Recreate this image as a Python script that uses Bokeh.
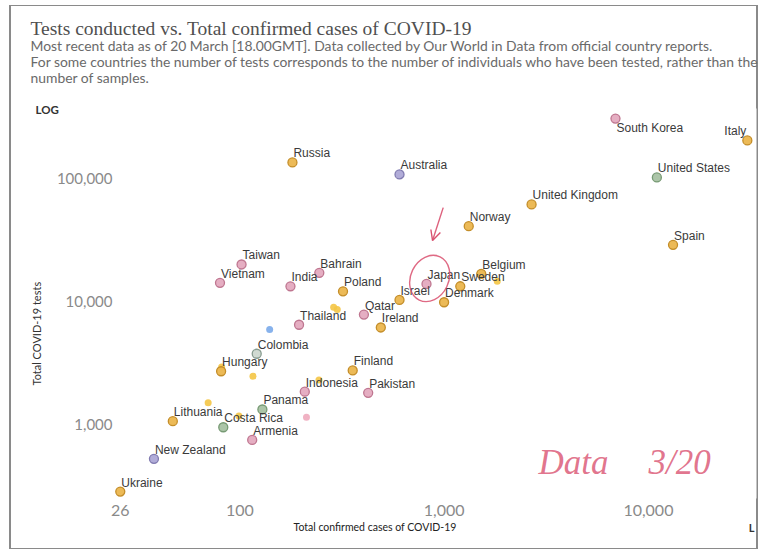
from bokeh.plotting import figure
from bokeh.models import (ColumnDataSource, FixedTicker, NumeralTickFormatter, Range1d,
                          Label, Arrow, OpenHead, Title)
from bokeh.core.properties import value
from bokeh.embed import file_html
from bokeh.resources import INLINE

# --- data (20 March) ---------------------------------------------------------
countries = ["South Korea", "Italy", "Russia", "Australia", "United States",
             "United Kingdom", "Norway", "Spain", "Taiwan", "Bahrain", "Vietnam",
             "India", "Poland", "Belgium", "Sweden", "Japan", "Israel", "Denmark",
             "Qatar", "Thailand", "Ireland", "Colombia", "Hungary", "Finland",
             "Indonesia", "Pakistan", "Panama", "Lithuania", "Costa Rica",
             "Armenia", "New Zealand", "Ukraine"]
cases = [6900, 30500, 181, 605, 11000, 2680, 1320, 13200, 102, 245, 80, 177, 320,
         1520, 1200, 820, 605, 1000, 405, 195, 490, 121, 81, 357, 208, 425, 129,
         47, 83, 115, 38, 26]
tests = [307000, 204000, 135000, 108000, 102000, 61500, 41000, 28900, 20000,
         17100, 14200, 13300, 12100, 16800, 13300, 13900, 10300, 9860, 7830, 6470,
         6150, 3760, 2710, 2750, 1850, 1810, 1325, 1065, 950, 750, 526, 285]
regions = ["Asia", "Europe", "Europe", "Oceania", "North America", "Europe",
           "Europe", "Europe", "Asia", "Asia", "Asia", "Asia", "Europe", "Europe",
           "Europe", "Asia", "Europe", "Europe", "Asia", "Asia", "Europe",
           "South America", "Europe", "Europe", "Asia", "Asia", "North America",
           "Europe", "North America", "Asia", "Oceania", "Europe"]

# countries drawn without a name
other_cases = [288, 300, 140, 81.5, 116, 244, 70, 99, 212, 1820]
other_tests = [8990, 8610, 5920, 2930, 2470, 2300, 1500, 1170, 1146, 14630]
other_regions = ["Europe", "Europe", "South America", "Europe", "Europe", "Europe",
                 "Europe", "Europe", "Asia", "Europe"]

x_ticks = [26, 100, 1000, 10000]
y_ticks = [1000, 10000, 100000]

# --- styles ------------------------------------------------------------------
fill_by_region = {"Asia": "#e4aabf", "Europe": "#ebb64e", "North America": "#a8c2a3",
                  "Oceania": "#ada8d6", "South America": "#cdd8d0"}
line_by_region = {"Asia": "#bf7690", "Europe": "#c48e2a", "North America": "#779a74",
                  "Oceania": "#817bb0", "South America": "#879c90"}
other_fill_by_region = {"Europe": "#f4c545", "Asia": "#eeaabd", "South America": "#7aaaea"}
labels_below = {"South Korea"}
labels_left = {"Italy"}
NOTE_RED = "#d9506f"

LEFT, RIGHT, TOP, BOTTOM = 114, 4, 108, 53   # plot frame margins (px)

p = figure(width=760, height=551, x_axis_type="log", y_axis_type="log",
           x_range=Range1d(24.36, 33815), y_range=Range1d(250.3, 370800),
           min_border_left=LEFT, min_border_right=RIGHT,
           min_border_top=TOP, min_border_bottom=BOTTOM,
           toolbar_location=None, output_backend="svg")
p.outline_line_color = None
p.background_fill_color = "white"
p.border_fill_color = None
p.grid.visible = False

# edge of the printed sheet, painted behind the canvas
p.styles = {
    "background-color": "white",
    "background-image": ", ".join(["linear-gradient(#8a8a8a, #8a8a8a)"] * 4),
    "background-size": "2px 544px, 747px 1px, 2px 544px, 747px 1px",
    "background-position": "9px 5px, 10px 5px, 756px 5px, 10px 548px",
    "background-repeat": "no-repeat",
}

for ax, ticks, size, standoff in ((p.xaxis[0], x_ticks, "16px", 6),
                                  (p.yaxis[0], y_ticks, "15px", 2)):
    ax.ticker = FixedTicker(ticks=ticks)
    ax.formatter = NumeralTickFormatter(format="0,0")
    ax.axis_line_color = None
    ax.major_tick_line_color = None
    ax.minor_tick_line_color = None
    ax.major_tick_out = 0
    ax.major_tick_in = 0
    ax.minor_tick_out = 0
    ax.minor_tick_in = 0
    ax.major_label_text_font = "Lato"
    ax.major_label_text_font_size = size
    ax.major_label_text_color = "#8a8a8a"
    ax.major_label_standoff = standoff

# --- points ------------------------------------------------------------------
others = ColumnDataSource(dict(
    x=other_cases, y=other_tests,
    fill=[other_fill_by_region[r] for r in other_regions]))
p.scatter("x", "y", source=others, size=7, fill_color="fill", fill_alpha=0.9,
          line_color=None)

src = ColumnDataSource(dict(
    x=cases, y=tests, name=countries,
    fill=[fill_by_region[r] for r in regions],
    line=[line_by_region[r] for r in regions]))
p.scatter("x", "y", source=src, size=9, fill_color="fill", line_color="line",
          line_width=1.3, fill_alpha=0.95)

# --- country names -------------------------------------------------------------
def name_source(keep):
    idx = [i for i, c in enumerate(countries) if keep(c)]
    return ColumnDataSource(dict(x=[cases[i] for i in idx], y=[tests[i] for i in idx],
                                 name=[countries[i] for i in idx]))

common = dict(text="name", text_font=value("Liberation Sans"), text_font_size="12px",
              text_color="#3a3a3a", text_baseline="middle")
p.text("x", "y", source=name_source(lambda c: c not in labels_below | labels_left),
       x_offset=1, y_offset=-9, text_align="left", **common)
p.text("x", "y", source=name_source(lambda c: c in labels_below),
       x_offset=1, y_offset=9, text_align="left", **common)
p.text("x", "y", source=name_source(lambda c: c in labels_left),
       x_offset=-1, y_offset=-9, text_align="right", **common)

# --- handwritten note: circle round Japan, arrow, date ---------------------------
p.ellipse(x=[850], y=[15400], width=38, height=48, angle=-0.45,
          width_units="screen", height_units="screen",
          fill_color=None, line_color=NOTE_RED, line_width=1.4, line_alpha=0.85)
p.add_layout(Arrow(x_start=990, y_start=58000, x_end=878, y_end=31300,
                   line_color=NOTE_RED, line_width=1.4, line_alpha=0.9,
                   end=OpenHead(size=10, line_color=NOTE_RED, line_width=1.4)))

def frame_label(cx, cy, text, **kw):
    """Label placed in canvas px (inside the plot frame)."""
    p.add_layout(Label(x=cx - LEFT, y=(551 - BOTTOM) - cy, x_units="screen",
                       y_units="screen", text=text, **kw))

note = dict(text_font="Liberation Serif", text_font_size="35px",
            text_font_style="italic", text_color=NOTE_RED, text_alpha=0.8,
            text_baseline="alphabetic")
frame_label(538, 462, "Data", **note)
frame_label(648, 462, "3/20", **note)

# --- header, axis titles -------------------------------------------------------------
def title(side, text, standoff, **kw):
    try:
        t = Title(text=text, standoff=standoff, **kw)
    except ValueError:
        t = Title(text=text, standoff=0, **kw)
    p.add_layout(t, side)

lato = dict(text_font="Lato", text_font_style="normal")
# nearest the frame first
title("above", "LOG", -14, align="left", offset=35 - LEFT, vertical_align="bottom",
      text_font_size="11.5px", text_color="#333333", text_font="Lato",
      text_font_style="bold")
title("above", " ", 8, align="left", vertical_align="bottom", text_font_size="10px")
title("above", "Most recent data as of 20 March [18.00GMT]. Data collected by Our World "
      "in Data from official country reports.\nFor some countries the number of tests "
      "corresponds to the number of individuals who have been tested, rather than the\n"
      "number of samples.", 0, align="left", offset=30 - LEFT, vertical_align="bottom",
      text_font_size="13.9px", text_color="#6a6a6a", text_line_height=0.96, **lato)
title("above", "Tests conducted vs. Total confirmed cases of COVID-19", -8, align="left",
      offset=30 - LEFT, vertical_align="bottom", text_font="Liberation Serif",
      text_font_size="19.5px", text_color="#505050", text_font_style="normal")

title("left", "Total COVID-19 tests", 22, align="left", offset=113,
      vertical_align="bottom", text_font_size="11px", text_color="#333333", **lato)

# below the x axis: scale switch letter, then the axis title on the same row
title("below", "L", 4, align="right", offset=2, vertical_align="top",
      text_font_size="11px", text_color="#333333", text_font="Lato",
      text_font_style="bold")
title("below", "Total confirmed cases of COVID-19", -34, align="left", offset=293 - LEFT,
      vertical_align="top", text_font_size="10.5px", text_color="#222222", **lato)

open("out.html", "w").write(file_html(p, INLINE))
